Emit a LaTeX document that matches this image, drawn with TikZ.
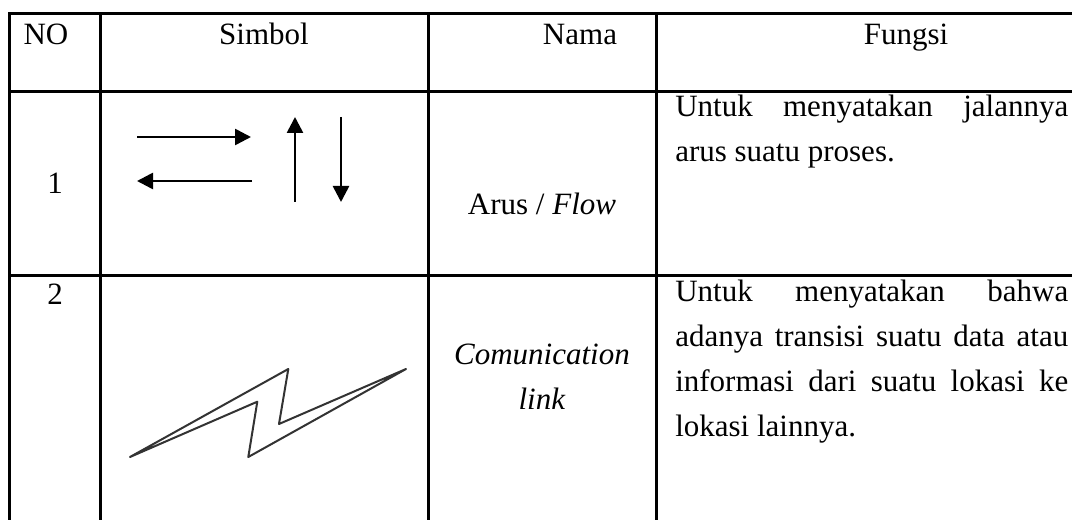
\documentclass[tikz,border=0pt]{standalone}
\usepackage{fontspec}
\setmainfont{Liberation Serif}[ItalicFont={Liberation Serif Italic}]
\usetikzlibrary{arrows.meta}

% one justified line of the Fungsi column
\newcommand{\fungsiline}[1]{\makebox[294.75pt][s]{#1}}

\begin{document}
\begin{tikzpicture}[
  x=0.75pt, y=-0.75pt,
  rule/.style={line width=2.25pt},
  txt/.style={inner sep=0pt, font=\fontsize{23.25pt}{28pt}\selectfont},
  cbase/.style={txt, anchor=base},
  lbase/.style={txt, anchor=base west},
  flowarr/.style={line width=2pt, -{Triangle[length=12pt,width=12pt]}},
  zlink/.style={line width=1.5pt, draw=black!80, line join=round},
]
  \useasboundingbox (0,0) rectangle (1072,520);

  % Table rules (right side and bottom run off the picture)
  \draw[rule] (9.5,520) -- (9.5,14) -- (1072,14);
  \draw[rule] (9.5,91.5) -- (1072,91.5);
  \draw[rule] (9.5,276) -- (1072,276);
  \foreach \cx in {100.5,428.7,656}
    \draw[rule] (\cx,14) -- (\cx,520);

  % Header row
  \node[cbase] (hNo)     at (46,45)    {NO};
  \node[cbase] (hSimbol) at (264,44.5) {Simbol};
  \node[cbase] (hNama)   at (580,44.5) {Nama};
  \node[cbase] (hFungsi) at (906,44.5) {Fungsi};

  % Row 1: flow arrows
  \node[cbase] (no1)   at (55,194)  {1};
  \coordinate (r1) at (137,137);  \coordinate (r2) at (251,137);
  \coordinate (l1) at (252,181);  \coordinate (l2) at (137,181);
  \coordinate (u1) at (295,202);  \coordinate (u2) at (295,117);
  \coordinate (d1) at (341,117);  \coordinate (d2) at (341,202);
  \draw[flowarr] (r1) -- (r2);
  \draw[flowarr] (l1) -- (l2);
  \draw[flowarr] (u1) -- (u2);
  \draw[flowarr] (d1) -- (d2);
  \node[cbase] (nama1) at (542,215) {Arus / \textit{Flow}};
  \node[lbase] (f1a) at (675,117) {\fungsiline{Untuk menyatakan jalannya}};
  \node[lbase] (f1b) at (675,162) {arus suatu proses.};

  % Row 2: communication link
  \node[cbase] (no2) at (55,305) {2};
  \coordinate (z1) at (130,457);   \coordinate (z2) at (288.3,369);
  \coordinate (z3) at (279,424);   \coordinate (z4) at (406,369);
  \coordinate (z5) at (248.3,457); \coordinate (z6) at (257.3,401.7);
  \draw[zlink] (z1) -- (z2) -- (z3) -- (z4) -- (z5) -- (z6) -- cycle;
  \node[cbase] (nama2a) at (542,364.5) {\textit{Comunication}};
  \node[cbase] (nama2b) at (542,409.5) {\textit{link}};
  \node[lbase] (f2a) at (675,301.5) {\fungsiline{Untuk menyatakan bahwa}};
  \node[lbase] (f2b) at (675,346.5) {\fungsiline{adanya transisi suatu data atau}};
  \node[lbase] (f2c) at (675,391.5) {\fungsiline{informasi dari suatu lokasi ke}};
  \node[lbase] (f2d) at (675,436.5) {lokasi lainnya.};
\end{tikzpicture}
\end{document}
